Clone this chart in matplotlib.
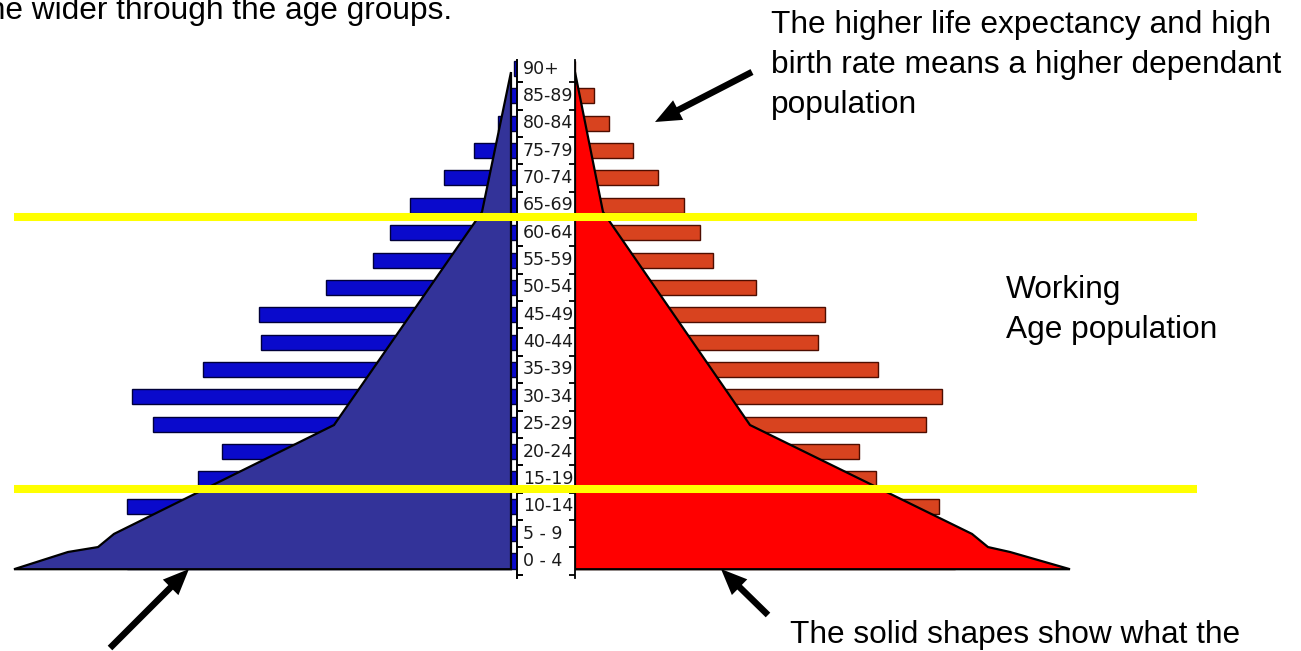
import matplotlib
matplotlib.use('Agg')
import matplotlib.pyplot as plt
import numpy as np
from matplotlib.lines import Line2D
from matplotlib.patches import FancyArrow
from matplotlib.transforms import blended_transform_factory

W, H = 1301, 651

# ---------------- data ----------------
age_groups = ['0 - 4', '5 - 9', '10-14', '15-19', '20-24', '25-29', '30-34',
              '35-39', '40-44', '45-49', '50-54', '55-59', '60-64', '65-69',
              '70-74', '75-79', '80-84', '85-89', '90+']
male = [390, 370, 390, 319, 295, 364, 385, 314, 256, 258, 191, 144, 127,
        107, 73, 43, 19, 8, 3]
female = [380, 360, 364, 301, 284, 351, 367, 303, 243, 250, 181, 138, 125,
          109, 83, 58, 34, 19, 0]

# solid "shape" outlines (age position, width)
shape_age = [-0.3, 0.33, 0.51, 0.99, 4.97, 12.76, 17.87]
shape_male = [503, 449, 419, 403, 183, 35, 6]
shape_female = [495, 435, 413, 397, 175, 28, 0]
shape_base_male = 5
shape_base_female = 0

# working-age band boundaries (age position)
band_edges = [2.63, 12.57]

# ---------------- figure ----------------
fig = plt.figure(figsize=(W / 100, H / 100), dpi=100)
fig.patch.set_facecolor('white')

ax_bottom = (H - 580) / H
ax_height = 530 / H
ylim = (-0.694, 18.677)

axL = fig.add_axes([0, ax_bottom, 517 / W, ax_height])
axR = fig.add_axes([575 / W, ax_bottom, 726 / W, ax_height])
axL.set_xlim(517, 0)
axR.set_xlim(0, 726)
for ax in (axL, axR):
    ax.set_ylim(*ylim)
    ax.patch.set_alpha(0)
    ax.set_xticks([])
    for s in ('top', 'bottom'):
        ax.spines[s].set_visible(False)
    ax.set_yticks(np.arange(-0.5, 18.0, 1.0))

axL.spines['left'].set_visible(False)
axL.spines['right'].set_bounds(-0.62, 18.31)
axL.spines['right'].set_linewidth(1.4)
axL.yaxis.tick_right()
axL.tick_params(axis='y', direction='out', length=4.5, width=1.4,
                labelright=False, labelleft=False)

axR.spines['right'].set_visible(False)
axR.spines['left'].set_bounds(-0.62, 18.31)
axR.spines['left'].set_linewidth(1.3)
axR.tick_params(axis='y', direction='out', length=4.5, width=1.3,
                labelleft=False)

ypos = np.arange(len(age_groups))
axL.barh(ypos, male, height=0.55, color='#0a0acc', edgecolor='#00003a',
         linewidth=1.0, zorder=2)
axR.barh(ypos, female, height=0.55, color='#d8431f', edgecolor='#4d0d00',
         linewidth=1.0, zorder=2)

xs_m = [shape_base_male + 1] + shape_male + [shape_base_male + 1]
ys_m = [shape_age[0]] + shape_age + [shape_age[-1]]
axL.fill(xs_m, ys_m, facecolor='#333399', edgecolor='black', linewidth=1.6,
         zorder=3, joinstyle='miter')
xs_f = [shape_base_female] + shape_female + [shape_base_female]
ys_f = [shape_age[0]] + shape_age + [shape_age[-1]]
axR.fill(xs_f, ys_f, facecolor='#ff0000', edgecolor='black', linewidth=1.6,
         zorder=3, joinstyle='miter')

for i, lab in enumerate(age_groups):
    axL.text(-6, i, lab, ha='left', va='center', fontsize=12.5,
             family='DejaVu Sans', color='#1a1a1a', clip_on=False, zorder=4)

# ---------------- overlay (annotations) ----------------
ov = fig.add_axes([0, 0, 1, 1], zorder=10)
ov.set_xlim(0, W)
ov.set_ylim(H, 0)
ov.axis('off')
ov.patch.set_alpha(0)

trans = blended_transform_factory(ov.transData, axL.transData)
for yb in band_edges:
    ov.add_line(Line2D([14, 1197], [yb, yb], transform=trans, color='#ffff00',
                       linewidth=5.8, solid_capstyle='butt', clip_on=False))

tfont = dict(family='Liberation Sans', fontsize=22.8, color='black',
             va='baseline')
ov.text(452, 19, 'the wider through the age groups.', ha='right', **tfont)
ov.text(771, 33, 'The higher life expectancy and high', ha='left', **tfont)
ov.text(771, 73, 'birth rate means a higher dependant', ha='left', **tfont)
ov.text(771, 113, 'population', ha='left', **tfont)
ov.text(1006, 298, 'Working', ha='left', **tfont)
ov.text(1006, 338, 'Age population', ha='left', **tfont)
ov.text(790, 643, 'The solid shapes show what the', ha='left', **tfont)

arrows = [((752, 72), (655, 122)),
          ((110, 648), (189, 569)),
          ((768, 615), (721, 569))]
for (x0, y0), (x1, y1) in arrows:
    ov.add_patch(FancyArrow(x0, y0, x1 - x0, y1 - y0, width=6.5,
                            head_width=22, head_length=26,
                            length_includes_head=True, color='black',
                            linewidth=0))

fig.savefig('out.png', dpi=100)
